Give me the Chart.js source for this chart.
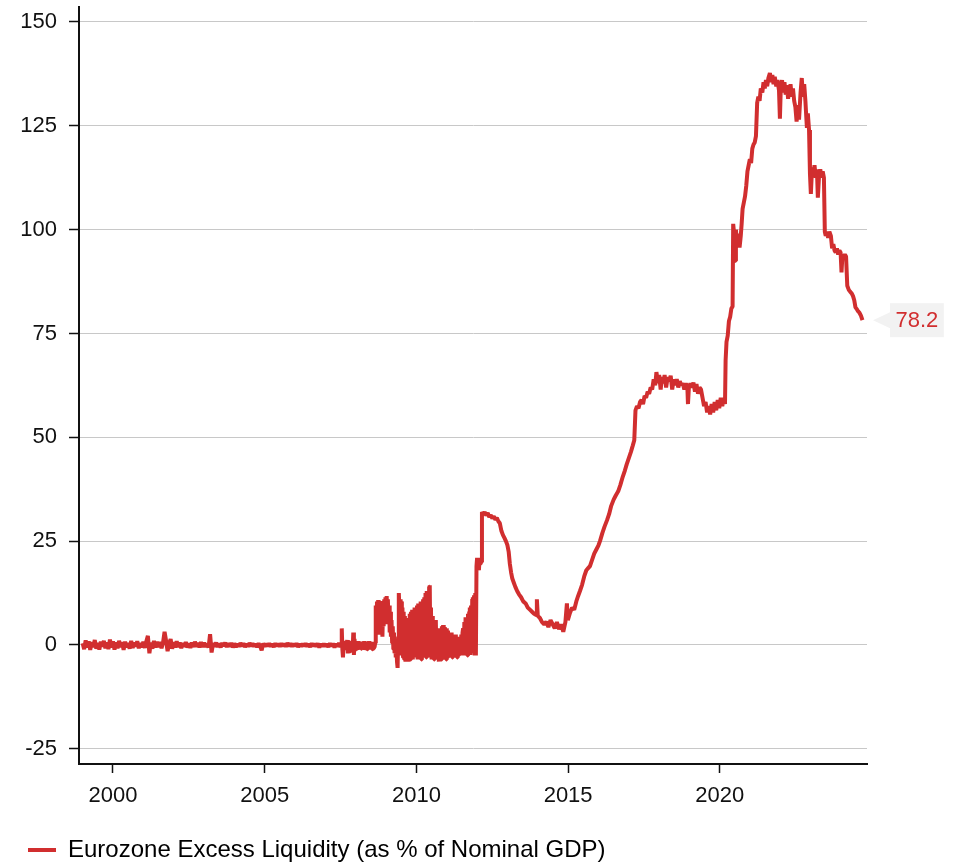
<!DOCTYPE html>
<html>
<head>
<meta charset="utf-8">
<script src="https://cdn.jsdelivr.net/npm/chart.js@4.4.1/dist/chart.umd.min.js"></script>
<style>
  html, body { margin: 0; padding: 0; background: #ffffff; }
  #wrap { width: 962px; height: 862px; }
</style>
</head>
<body>
<div id="wrap"><canvas id="chart" width="962" height="862"></canvas></div>
<script>
const seriesName = 'Eurozone Excess Liquidity (as % of Nominal GDP)';
const xTicks = [2000, 2005, 2010, 2015, 2020];
const yTicks = [-25, 0, 25, 50, 75, 100, 125, 150];

// 1999.00 - 2007.50, sampled every 0.05 year
const earlyStart = 1999.00;
const earlyStep = 0.05;
const earlyLiquidity = [
  0.4,-1.0,1.1,-0.6,0.9,-1.2,0.7,-0.5,1.2,-0.9,0.5,-1.1,0.8,-0.4,1.0,-0.8,0.6,-1.0,1.3,-0.6,
  0.9,-1.1,0.6,-0.8,1.0,-0.5,0.7,-1.2,0.8,-0.6,0.5,-0.9,1.0,-0.7,0.6,-0.4,0.9,-0.8,0.5,-0.6,
  0.8,-0.7,0.9,2.2,-2.0,0.6,-0.9,1.0,-0.6,0.8,-0.5,0.7,-0.8,0.6,3.2,1.0,-1.5,0.4,1.4,-0.9,
  0.7,-0.6,0.9,-0.5,0.6,-0.8,0.5,-0.4,0.7,-0.6,0.4,-0.7,0.6,-0.5,0.8,-0.4,0.5,-0.6,0.7,-0.5,
  0.6,-0.5,0.4,-0.6,2.6,-1.8,0.5,-0.4,0.6,-0.5,0.4,-0.6,0.5,-0.3,0.6,-0.5,0.4,-0.4,0.5,-0.6,
  0.4,-0.5,0.3,-0.4,0.5,-0.3,0.4,-0.5,0.3,-0.4,0.5,-0.3,0.4,-0.4,0.3,-0.5,0.4,-0.3,-1.3,0.4,
  -0.4,0.3,-0.3,0.4,-0.4,0.3,-0.5,0.4,-0.3,0.3,-0.4,0.4,-0.3,0.3,-0.4,0.5,-0.3,0.4,-0.4,0.3,
  -0.3,0.4,-0.5,0.3,-0.4,0.3,-0.3,0.4,-0.4,0.3,-0.5,0.4,-0.3,0.3,-0.4,0.4,-0.6,0.3,-0.4,0.3,
  -0.4,0.3,-0.5,0.4,-0.3,0.4,-0.6,0.3,-0.4,0.5,-0.5
];

// 2007.52 - 2012.14, sampled every 0.02 year (weekly-like, volatile period)
const crisisStart = 2007.52;
const crisisStep = 0.02;
const crisisLiquidity = [
  0.5,4.0,-1.0,-3.0,1.0,-0.5,0.8,-1.2,0.6,-0.8,1.2,-2.0,0.8,-1.0,1.0,-1.5,0.5,-0.8,1.0,-1.0,3.0,-2.4,1.5,-1.0,
  0.8,-1.0,0.6,-1.2,0.9,-0.7,0.5,-1.1,0.8,-0.9,0.6,-1.0,0.7,-0.8,0.9,-1.2,0.5,-0.9,0.8,-1.0,0.6,-0.7,0.9,-1.1,0.5,-0.8,0.7,-1.0,0.6,-0.9,0.8,-0.6,
  0.5,9.5,3.0,10.5,4.0,10.8,2.5,10.2,6.0,10.6,3.5,9.8,2.0,8.5,4.5,11.0,5.0,11.5,
  10.0,11.8,7.5,11.0,5.0,9.5,3.0,8.0,2.0,6.0,0.5,4.5,-1.0,3.0,-2.0,
  1.5,-3.0,0.5,-4.0,-5.5,2.0,12.5,9.0,11.0,-1.0,10.5,-2.5,9.0,-3.0,8.0,-3.5,7.0,-4.0,6.5,-3.5,5.5,-4.0,6.0,-3.0,7.5,-3.5,8.0,-3.0,8.5,-3.5,8.0,-3.0,9.0,-2.5,8.5,
  -3.0,9.5,-3.5,10.0,-2.5,9.0,-3.0,10.5,-3.5,10.0,-2.5,11.0,-3.0,11.5,-2.0,12.5,-3.0,13.0,-2.5,12.0,-3.0,14.0,14.4,-2.5,9.0,
  -3.5,7.0,-3.0,5.5,-3.5,4.5,-2.5,6.0,-3.0,4.0,-3.5,3.5,-4.0,4.0,-3.0,3.0,-3.5,4.5,-3.0,4.8,-3.5,4.3,-3.0,3.5,-3.5,
  4.0,-3.0,3.5,-2.5,3.0,-3.0,2.5,-2.5,3.0,-3.0,2.5,-2.5,2.0,-3.0,2.5,-2.5,2.0,-3.0,2.0,-2.5,1.5,-2.5,2.0,-2.0,2.5,
  -2.5,3.0,4.0,-2.0,5.5,-2.5,6.7,-2.0,6.0,-2.5,7.5,-2.0,8.0,9.0,-2.4,9.5,-2.0,11.0,11.5,-2.0,12.0,-2.5,12.5,-2.5,19.0,
  21.0,18.5,20.0,18.0,20.5,19.5,21.0,20.0
];

// 2012.16 onwards, observation dates as decimal years
const lateDates = [
  2012.16,2012.20,2012.25,2012.30,2012.35,2012.40,2012.45,2012.50,2012.55,2012.60,2012.65,2012.70,2012.75,2012.80,2012.85,2012.90,2012.95,
  2013.00,2013.04,2013.08,2013.12,2013.16,2013.21,2013.26,2013.32,2013.38,2013.45,2013.52,2013.60,2013.67,2013.74,2013.81,2013.88,2013.95,2013.97,
  2014.00,2014.07,2014.14,2014.21,2014.28,2014.35,2014.42,2014.49,2014.56,2014.63,2014.70,2014.77,2014.84,2014.91,2014.96,2014.99,
  2015.06,2015.13,2015.20,2015.27,2015.33,2015.39,2015.46,2015.53,2015.60,2015.66,2015.72,2015.79,2015.86,2015.93,
  2016.00,2016.05,2016.13,2016.20,2016.28,2016.35,2016.42,2016.50,2016.57,2016.65,2016.72,2016.80,2016.87,2016.93,
  2017.00,2017.07,2017.13,2017.18,2017.22,2017.27,2017.32,2017.37,2017.42,2017.47,2017.52,2017.57,2017.62,2017.67,2017.72,2017.77,2017.82,2017.87,2017.91,2017.96,
  2018.00,2018.05,2018.09,2018.14,2018.18,2018.23,2018.28,2018.33,2018.38,2018.43,2018.48,2018.53,2018.58,2018.63,2018.68,2018.73,2018.78,2018.83,2018.88,2018.93,2018.95,2018.98,
  2019.03,2019.08,2019.13,2019.18,2019.23,2019.28,2019.33,2019.38,2019.43,2019.48,2019.53,2019.58,2019.63,2019.68,2019.73,2019.78,2019.83,2019.88,2019.93,2019.98,
  2020.03,2020.08,2020.13,2020.17,2020.19,2020.22,2020.26,2020.30,2020.34,2020.38,2020.42,2020.44,2020.47,2020.50,2020.53,2020.57,2020.61,2020.65,2020.69,2020.72,2020.75,2020.79,2020.83,2020.87,2020.91,2020.95,2020.99,
  2021.03,2021.07,2021.11,2021.15,2021.19,2021.23,2021.27,2021.31,2021.35,2021.40,2021.44,2021.48,2021.52,2021.56,2021.60,2021.65,2021.69,2021.73,2021.77,2021.81,2021.86,2021.90,2021.95,2021.98,
  2022.01,2022.05,2022.09,2022.13,2022.17,2022.21,2022.25,2022.29,2022.33,2022.37,2022.41,2022.45,2022.49,2022.53,2022.57,2022.61,2022.66,2022.70,2022.74,2022.78,2022.82,2022.85,2022.87,2022.90,2022.94,2022.97,
  2023.00,2023.04,2023.08,2023.12,2023.16,2023.20,2023.23,2023.27,2023.31,2023.35,2023.39,2023.43,2023.46,2023.49,2023.53,2023.57,2023.61,2023.66,2023.70,2023.74,2023.78,2023.82,2023.86,2023.90,2023.94,2023.98,
  2024.01,2024.04,2024.08,2024.12,2024.16,2024.20,2024.25,2024.30,2024.35,2024.39,2024.43,2024.47,2024.52,2024.56,2024.60,2024.65,2024.70
];
const lateLiquidity = [
  32.0,31.5,32.0,31.2,31.8,30.8,31.3,30.5,31.0,30.2,30.6,29.8,29.3,27.5,26.5,25.8,25.0,
  24.0,22.5,19.5,17.5,16.0,15.0,14.0,13.0,12.2,11.5,10.5,10.0,9.0,8.5,8.0,7.5,7.2,11.0,
  7.0,6.5,5.5,5.0,5.6,4.3,6.0,5.0,4.0,5.5,3.8,5.0,3.2,5.5,10.0,6.0,
  7.7,9.0,8.5,10.5,11.8,13.0,14.5,16.5,18.0,18.5,19.0,20.5,22.0,23.0,
  24.0,25.0,27.0,28.5,30.0,31.5,33.5,35.0,36.0,37.0,38.5,40.5,42.0,43.5,
  45.0,46.5,48.0,49.3,56.5,57.5,57.0,58.5,59.0,58.0,60.0,59.5,61.0,60.5,62.0,61.5,64.0,62.5,65.7,63.0,
  65.0,61.5,64.5,63.0,65.0,62.0,64.5,63.5,64.8,61.5,64.0,62.5,64.0,62.0,63.5,62.5,63.0,61.5,63.0,62.0,58.0,62.0,
  63.0,62.0,63.2,61.0,62.8,60.5,62.0,61.5,59.5,57.5,58.5,56.0,57.5,55.5,58.0,56.0,58.5,56.5,59.0,57.0,
  59.5,57.5,59.5,58.0,68.5,73.0,74.5,78.0,79.0,81.0,81.5,101.4,99.0,92.5,100.0,96.0,99.0,95.7,98.5,101.5,105.0,106.5,108.0,110.5,114.0,115.5,117.0,
  116.0,119.5,120.5,121.0,122.5,130.5,132.0,131.0,134.0,133.0,135.5,134.0,136.0,134.5,136.5,137.7,135.5,137.2,135.0,136.8,134.5,136.0,133.5,126.7,
  134.5,136.0,133.0,135.5,132.5,134.8,131.5,133.5,135.0,132.0,134.0,131.0,129.5,126.0,130.0,126.5,133.0,136.5,132.0,135.0,131.0,127.0,124.5,128.0,124.0,113.5,
  108.6,115.0,113.0,115.5,112.5,114.5,107.7,113.0,114.5,112.5,114.0,112.5,99.5,98.5,99.5,98.0,99.5,98.5,95.5,96.5,95.0,94.5,95.5,94.0,95.0,94.5,
  89.7,93.8,93.5,94.0,93.5,86.5,85.5,85.0,84.6,84.0,83.0,81.3,80.8,80.3,80.0,79.3,78.2
];

const lineColor = '#d12e2f';
const inkColor = '#111111';
const fontFamily = '"Liberation Sans", Arial, Helvetica, sans-serif';

// Assemble the weekly-style series into {x, y} points
function regularPoints(start, step, values) {
  return values.map((v, i) => ({ x: Math.round((start + i * step) * 1000) / 1000, y: v }));
}
const points = [
  ...regularPoints(earlyStart, earlyStep, earlyLiquidity),
  ...regularPoints(crisisStart, crisisStep, crisisLiquidity),
  ...lateDates.map((d, i) => ({ x: d, y: lateLiquidity[i] }))
];

// Grey call-out tag with the latest reading, placed right of the plot
const lastValueTag = {
  id: 'lastValueTag',
  afterDatasetsDraw(chart) {
    const data = chart.data.datasets[0].data;
    const last = data[data.length - 1];
    const y = chart.scales.y.getPixelForValue(last.y);
    const right = chart.chartArea.right;
    const ctx = chart.ctx;
    const label = last.y.toFixed(1);
    ctx.save();
    ctx.font = '22px ' + fontFamily;
    const tw = ctx.measureText(label).width;
    const bx = right + 23;
    const bw = tw + 11;
    ctx.fillStyle = '#f2f2f2';
    ctx.beginPath();
    ctx.moveTo(right + 6, y);
    ctx.lineTo(bx, y - 8);
    ctx.lineTo(bx, y + 8);
    ctx.closePath();
    ctx.fill();
    ctx.fillRect(bx, y - 17, bw, 34);
    ctx.fillStyle = lineColor;
    ctx.textAlign = 'left';
    ctx.textBaseline = 'middle';
    ctx.fillText(label, bx + 5.5, y + 1);
    ctx.restore();
  }
};

new Chart(document.getElementById('chart'), {
  type: 'line',
  data: {
    datasets: [{
      label: seriesName,
      data: points,
      borderColor: lineColor,
      backgroundColor: lineColor,
      borderWidth: 4,
      borderJoinStyle: 'bevel',
      pointRadius: 0,
      tension: 0,
      fill: false
    }]
  },
  options: {
    responsive: false,
    animation: false,
    devicePixelRatio: 1,
    layout: { padding: { top: 7, right: 95, bottom: -10, left: 0 } },
    plugins: {
      tooltip: { enabled: false },
      legend: {
        position: 'bottom',
        align: 'start',
        labels: {
          boxWidth: 28,
          boxHeight: 4,
          padding: 28,
          color: inkColor,
          font: { size: 24, family: fontFamily },
          generateLabels(chart) {
            return chart.data.datasets.map((d, i) => ({
              text: d.label,
              fillStyle: d.borderColor,
              strokeStyle: d.borderColor,
              lineWidth: 0,
              hidden: false,
              datasetIndex: i
            }));
          }
        }
      }
    },
    scales: {
      x: {
        type: 'linear',
        min: 1998.88,
        max: 2024.85,
        afterBuildTicks(scale) { scale.ticks = xTicks.map(v => ({ value: v })); },
        afterFit(scale) {
          scale.height = 46;
          scale.paddingLeft = 0;
          scale.paddingRight = 0;
        },
        grid: { drawOnChartArea: false, drawTicks: true, tickLength: 9, tickColor: inkColor, tickWidth: 1.5 },
        border: { display: true, color: inkColor, width: 2 },
        ticks: {
          callback: v => String(v),
          color: inkColor,
          font: { size: 22, family: fontFamily },
          padding: 10,
          maxRotation: 0,
          autoSkip: false
        }
      },
      y: {
        type: 'linear',
        min: -28.65,
        max: 153.6,
        afterBuildTicks(scale) { scale.ticks = yTicks.map(v => ({ value: v })); },
        afterFit(scale) {
          scale.width = 79;
          scale.paddingTop = 0;
          scale.paddingBottom = 0;
        },
        grid: { color: '#c8c8c8', lineWidth: 1, drawTicks: true, tickLength: 10, tickColor: inkColor, tickWidth: 1.5 },
        border: { display: true, color: inkColor, width: 2 },
        ticks: {
          callback: v => String(v),
          color: inkColor,
          font: { size: 22, family: fontFamily },
          padding: 12
        }
      }
    }
  },
  plugins: [lastValueTag]
});
</script>
</body>
</html>
